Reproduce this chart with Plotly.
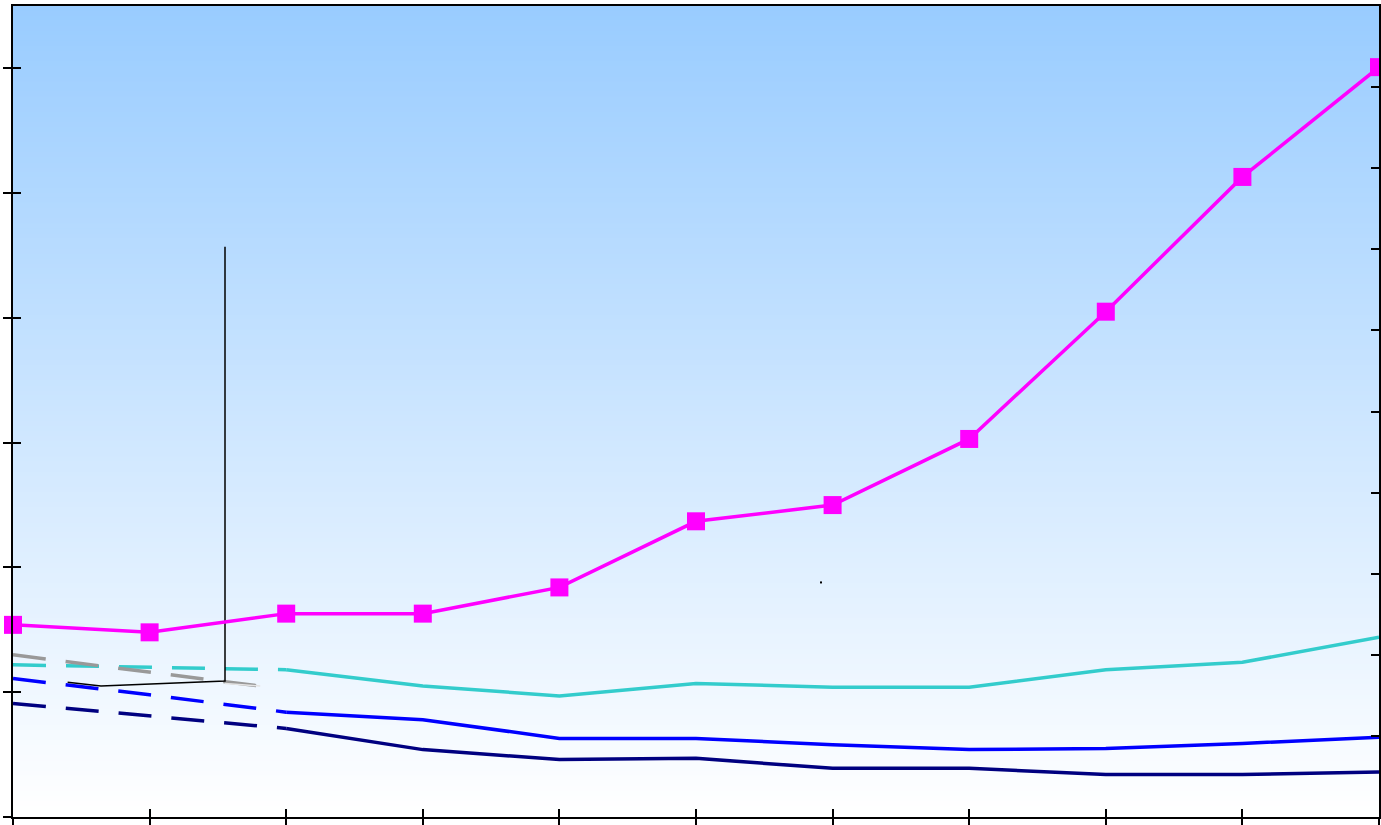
import plotly.graph_objects as go

# ---- data (left-axis units) ----
cats = list(range(11))
magenta_vals = [1.54, 1.48, 1.63, 1.63, 1.84, 2.37, 2.50, 3.03, 4.05, 5.13, 6.01]
cyan_est_x = [0, 1, 2]
cyan_est = [1.22, 1.20, 1.18]
cyan_x = [2, 3, 4, 5, 6, 7, 8, 9, 10]
cyan_vals = [1.18, 1.05, 0.97, 1.07, 1.04, 1.04, 1.18, 1.24, 1.44]
blue_est = [1.11, 0.98, 0.84]
blue_vals = [0.84, 0.78, 0.63, 0.63, 0.58, 0.54, 0.55, 0.59, 0.64]
navy_est = [0.91, 0.81, 0.71]
navy_vals = [0.71, 0.54, 0.46, 0.47, 0.39, 0.39, 0.34, 0.34, 0.36]
gray_est_x = [0, 1, 1.8]
gray_est = [1.30, 1.16, 1.05]
black_x = [0.40, 0.644, 1.552, 1.552]
black_y = [1.08, 1.05, 1.09, 4.57]
faint_x = [1.552, 1.81]
faint_y = [1.07, 1.05]
dot_x = [5.915]
dot_y = [1.88]

dash = "33px,20px"
W = 3.5
fig = go.Figure()

# gradient background
N = 160
top = (153, 204, 255)
bot = (255, 255, 255)
shapes = []
for i in range(N):
    t = i / (N - 1)
    c = tuple(round(top[k] + (bot[k] - top[k]) * t) for k in range(3))
    y1 = 1 - i / N
    y0 = 1 - (i + 1) / N
    shapes.append(dict(type="rect", xref="paper", yref="paper", x0=0, x1=1, y0=y0, y1=y1 + 0.001,
                       fillcolor="rgb(%d,%d,%d)" % c, line=dict(width=0), layer="below"))

fig.add_trace(go.Scatter(x=cyan_est_x, y=cyan_est, mode="lines", line=dict(color="#33CCCC", width=W, dash=dash)))
fig.add_trace(go.Scatter(x=gray_est_x, y=gray_est, mode="lines", line=dict(color="#999999", width=W, dash=dash)))
fig.add_trace(go.Scatter(x=cyan_est_x, y=blue_est, mode="lines", line=dict(color="#0000FF", width=W, dash=dash)))
fig.add_trace(go.Scatter(x=cyan_est_x, y=navy_est, mode="lines", line=dict(color="#000080", width=W, dash=dash)))
fig.add_trace(go.Scatter(x=cyan_x, y=cyan_vals, mode="lines", line=dict(color="#33CCCC", width=W)))
fig.add_trace(go.Scatter(x=cyan_x, y=blue_vals, mode="lines", line=dict(color="#0000FF", width=W)))
fig.add_trace(go.Scatter(x=cyan_x, y=navy_vals, mode="lines", line=dict(color="#000080", width=W)))
fig.add_trace(go.Scatter(x=faint_x, y=faint_y, mode="lines", line=dict(color="#e4e4e4", width=1.5)))
fig.add_trace(go.Scatter(x=black_x, y=black_y, mode="lines", line=dict(color="black", width=1.5)))
fig.add_trace(go.Scatter(x=dot_x, y=dot_y, mode="markers", marker=dict(color="black", size=2, symbol="square")))
fig.add_trace(go.Scatter(x=cats, y=magenta_vals, mode="lines+markers", cliponaxis=False,
                         line=dict(color="#FF00FF", width=W),
                         marker=dict(symbol="square", size=18, color="#FF00FF")))
# dummy traces to register overlay axes
fig.add_trace(go.Scatter(x=[], y=[], xaxis="x", yaxis="y2"))
fig.add_trace(go.Scatter(x=[], y=[], xaxis="x2", yaxis="y3"))
fig.add_trace(go.Scatter(x=[], y=[], xaxis="x", yaxis="y4"))

ax = dict(showgrid=False, zeroline=False, showticklabels=False, linecolor="black",
          linewidth=2, tickcolor="black", tickwidth=2, ticklen=8, automargin=False)
fig.update_layout(
    width=1381, height=825,
    margin=dict(l=13, r=2, t=6, b=8, autoexpand=False),
    paper_bgcolor="white", plot_bgcolor="white",
    showlegend=False, shapes=shapes,
    xaxis=dict(range=[0, 10], tickvals=cats, ticks="outside", showline=True, mirror=True, **ax),
    xaxis2=dict(range=[0, 10], tickvals=cats, ticks="inside", showline=False, overlaying="x",
                side="bottom", anchor="y", **ax),
    yaxis=dict(range=[0, 6.5], dtick=1, tick0=0, ticks="outside", showline=True, **ax),
    yaxis3=dict(range=[0, 6.5], dtick=1, tick0=0, ticks="inside", showline=False, overlaying="y",
                side="left", anchor="x", **ax),
    yaxis2=dict(range=[0, 10], dtick=1, tick0=0, ticks="outside", showline=True, overlaying="y",
                side="right", anchor="x", **ax),
    yaxis4=dict(range=[0, 10], dtick=1, tick0=0, ticks="inside", showline=False, overlaying="y",
                side="right", anchor="x", **ax),
)
fig.write_html("out.html")
